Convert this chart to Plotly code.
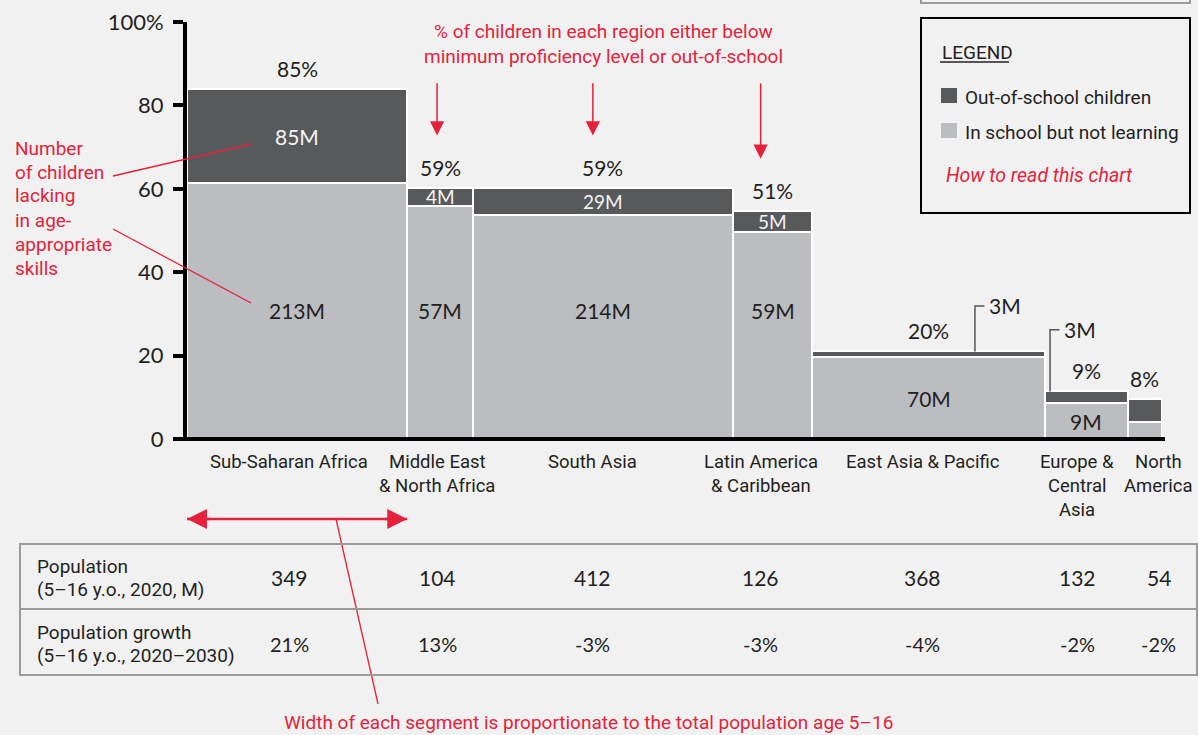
import plotly.graph_objects as go

# ---------------- data ----------------
regions = ["Sub-Saharan Africa", "Middle East<br>& North Africa", "South Asia",
           "Latin America<br>& Caribbean", "East Asia & Pacific",
           "Europe &<br>Central<br>Asia", "North<br>America"]
population = [349, 104, 412, 126, 368, 132, 54]          # M, 5-16 y.o., 2020
growth = [21, 13, -3, -3, -4, -2, -2]                    # %, 2020-2030
in_school_pct = [61.4, 55.8, 53.8, 49.6, 19.6, 8.6, 4.0]  # in school but not learning
out_school_pct = [22.5, 4.5, 6.5, 5.1, 1.4, 2.8, 5.6]     # out-of-school
total_labels = [85, 59, 59, 51, 20, 9, 8]
in_school_m = [213, 57, 214, 59, 70, 9, None]
out_school_m = [85, 4, 29, 5, 3, 3, None]
y_ticks = [0, 20, 40, 60, 80, 100]
y_ticktext = ["0", "20", "40", "60", "80", "100%"]

# ---------------- styles ----------------
W, H = 1198, 735
L, R, T, B = 187, 1162, 22, 439
BG = "#f1f1f1"
DARK = "#58595b"
LIGHT = "#bcbdc0"
RED = "#e4223c"
INK = "#231f20"
NUM_FONT = "Lato, 'Open Sans', sans-serif"
COND_FONT = "Roboto, 'Liberation Sans', sans-serif"
label_xshift = [-8, -3, -10, -12, -6, -9, 14]   # px nudges for category/table text


def px(x):
    return (x - L) / (R - L)


def py(y):
    return (B - y) / (B - T)


starts = []
acc = 0
for p in population:
    starts.append(acc)
    acc += p
total_pop = acc
centers = [s + p / 2 for s, p in zip(starts, population)]
totals = [a + b for a, b in zip(in_school_pct, out_school_pct)]

fig = go.Figure()
fig.add_trace(go.Bar(x=starts, y=in_school_pct, width=population, offset=0,
                     marker=dict(color=LIGHT, line=dict(color="white", width=2)),
                     name="In school but not learning", hoverinfo="skip"))
fig.add_trace(go.Bar(x=starts, y=out_school_pct, width=population, offset=0,
                     marker=dict(color=DARK, line=dict(color="white", width=2)),
                     name="Out-of-school children", hoverinfo="skip"))

ann = []
shapes = []


def lines_ann(text, x, y_first_px, spacing, xref="paper", xanchor="center",
              size=20, color=INK, family=COND_FONT, italic=False, xshift=0):
    for i, line in enumerate(text.split("<br>")):
        t = f"<i>{line}</i>" if italic else line
        ann.append(dict(x=x, y=py(y_first_px + i * spacing), xref=xref, yref="paper",
                        text=t, showarrow=False, xanchor=xanchor, yanchor="middle",
                        xshift=xshift,
                        font=dict(size=size, color=color, family=family)))


# category labels
for c, r, xs in zip(centers, regions, label_xshift):
    lines_ann(r, c, 462, 24, xref="x", size=18.5, xshift=xs)

# percent labels above bars
for c, tval, tl in zip(centers, totals, total_labels):
    ann.append(dict(x=c, y=tval, xref="x", yref="y", text=f"{tl}%", showarrow=False,
                    yanchor="bottom", yshift=6,
                    font=dict(size=21, color=INK, family=NUM_FONT)))

# in-school labels
for c, v, m in zip(centers, in_school_pct, in_school_m):
    if m is None:
        continue
    ylab = 30.8 if v > 40 else v / 2
    ann.append(dict(x=c, y=ylab, xref="x", yref="y", text=f"{m}M", showarrow=False,
                    yanchor="middle",
                    font=dict(size=21, color=INK, family=NUM_FONT)))

# out-of-school labels (inside or as callout)
callout_frac = {4: 0.70, 5: 0.065}
callout_top = {4: 31.9, 5: 26.2}
for i, (c, v, o, m) in enumerate(zip(centers, in_school_pct, out_school_pct, out_school_m)):
    if m is None:
        continue
    if o >= 3:
        ann.append(dict(x=c, y=v + o / 2, xref="x", yref="y", text=f"{m}M", showarrow=False,
                        yanchor="middle",
                        font=dict(size=19 if o < 8 else 21, color="#f4f4f4", family=NUM_FONT)))
    else:
        xl = starts[i] + population[i] * callout_frac[i]
        yt = callout_top[i]
        shapes.append(dict(type="path", xref="x", yref="y",
                           path=f"M {xl},{v + o} L {xl},{yt} L {xl + 15},{yt}",
                           line=dict(color="#555", width=1.5)))
        ann.append(dict(x=xl + 19, y=yt, xref="x", yref="y", text=f"{m}M", showarrow=False,
                        xanchor="left", yanchor="middle",
                        font=dict(size=21, color=INK, family=NUM_FONT)))

# x axis line
shapes.append(dict(type="line", xref="paper", yref="paper", x0=px(175), x1=px(1165),
                   y0=0, y1=0, line=dict(color="black", width=4), layer="above"))

# top red annotation + arrows
lines_ann("% of children in each region either below<br>minimum proficiency level or out-of-school",
          px(603), 32, 24, size=19, color=RED)
for i in [1, 2, 3]:
    ann.append(dict(x=centers[i], y=totals[i] + 12.5, xref="x", yref="y",
                    ax=centers[i], ay=85.7, axref="x", ayref="y",
                    xshift=label_xshift[i],
                    text="", showarrow=True, arrowhead=2, arrowsize=1.9,
                    arrowwidth=1.5, arrowcolor=RED))

# left red annotation
lines_ann("Number<br>of children<br>lacking<br>in age-<br>appropriate<br>skills",
          px(13), 148, 24, xanchor="left", size=19, color=RED)
shapes.append(dict(type="line", xref="paper", yref="paper", x0=px(113), y0=py(176),
                   x1=px(251), y1=py(144), line=dict(color=RED, width=1.3)))
shapes.append(dict(type="line", xref="paper", yref="paper", x0=px(113), y0=py(229),
                   x1=px(251), y1=py(303), line=dict(color=RED, width=1.3)))

# width double arrow (spans the first segment)
shapes.append(dict(type="line", xref="x", yref="paper", x0=0, x1=population[0],
                   y0=py(519), y1=py(519), line=dict(color=RED, width=2.5)))
ann.append(dict(x=0, y=py(519), xref="x", yref="paper", ax=24, ay=0,
                text="", showarrow=True, arrowhead=2, arrowsize=1.6,
                arrowwidth=2.5, arrowcolor=RED))
ann.append(dict(x=population[0], y=py(519), xref="x", yref="paper", ax=-24, ay=0,
                text="", showarrow=True, arrowhead=2, arrowsize=1.6,
                arrowwidth=2.5, arrowcolor=RED))
shapes.append(dict(type="line", xref="paper", yref="paper", x0=px(336), y0=py(519),
                   x1=px(378), y1=py(704), line=dict(color=RED, width=1.3)))
lines_ann("Width of each segment is proportionate to the total population age 5–16",
          px(588), 722, 24, size=19, color=RED)

# table
shapes.append(dict(type="rect", xref="paper", yref="paper", x0=px(20), x1=px(1197),
                   y0=py(544), y1=py(675), line=dict(color="#9a9a9a", width=2)))
shapes.append(dict(type="line", xref="paper", yref="paper", x0=px(20), x1=px(1197),
                   y0=py(609), y1=py(609), line=dict(color="#9a9a9a", width=2)))
lines_ann("Population<br>(5–16 y.o., 2020, M)", px(35), 566, 23, xanchor="left", size=19)
lines_ann("Population growth<br>(5–16 y.o., 2020–2030)", px(35), 632, 23, xanchor="left", size=19)
for c, p, g, xs in zip(centers, population, growth, label_xshift):
    ann.append(dict(x=c, y=py(577), xref="x", yref="paper", text=f"{p}", showarrow=False,
                    xshift=xs, yanchor="middle",
                    font=dict(size=21, color=INK, family=NUM_FONT)))
    ann.append(dict(x=c, y=py(644), xref="x", yref="paper", text=f"{g}%", showarrow=False,
                    xshift=xs, yanchor="middle",
                    font=dict(size=20, color=INK, family=NUM_FONT)))

# legend box
shapes.append(dict(type="rect", xref="paper", yref="paper", x0=px(921), x1=px(1190),
                   y0=py(3), y1=py(-20), line=dict(color="#9a9a9a", width=2)))
shapes.append(dict(type="rect", xref="paper", yref="paper", x0=px(921), x1=px(1190),
                   y0=py(213), y1=py(18), line=dict(color="black", width=2)))
lines_ann("LEGEND", px(940), 52, 24, xanchor="left", size=19)
shapes.append(dict(type="line", xref="paper", yref="paper", x0=px(940), x1=px(1009),
                   y0=py(62), y1=py(62), line=dict(color=INK, width=1.3)))
shapes.append(dict(type="rect", xref="paper", yref="paper", x0=px(941), x1=px(957),
                   y0=py(103), y1=py(88), fillcolor=DARK, line=dict(width=0)))
shapes.append(dict(type="rect", xref="paper", yref="paper", x0=px(941), x1=px(957),
                   y0=py(138), y1=py(123), fillcolor=LIGHT, line=dict(width=0)))
lines_ann("Out-of-school children", px(963), 97, 24, xanchor="left", size=19)
lines_ann("In school but not learning", px(963), 132, 24, xanchor="left", size=19)
lines_ann("How to read this chart", px(944), 175, 24, xanchor="left", size=19.5,
          color=RED, italic=True)

fig.update_layout(
    width=W, height=H,
    margin=dict(l=L, r=W - R, t=T, b=H - B, autoexpand=False),
    paper_bgcolor=BG, plot_bgcolor=BG,
    barmode="stack", bargap=0,
    showlegend=False,
    annotations=ann, shapes=shapes,
    xaxis=dict(range=[0, total_pop], showgrid=False, zeroline=False, showline=False,
               showticklabels=False, ticks="", fixedrange=True),
    yaxis=dict(range=[0, 100], tickvals=y_ticks, ticktext=y_ticktext, showgrid=False,
               zeroline=False, showline=True, linecolor="black", linewidth=4,
               ticks="outside", ticklen=10, tickwidth=4, tickcolor="black",
               ticklabelstandoff=5,
               tickfont=dict(size=22, color=INK, family=NUM_FONT), fixedrange=True),
)

fig.write_html("out.html", config={"displayModeBar": False},
               post_script="document.body.style.margin='0';document.body.style.overflow='hidden';")
